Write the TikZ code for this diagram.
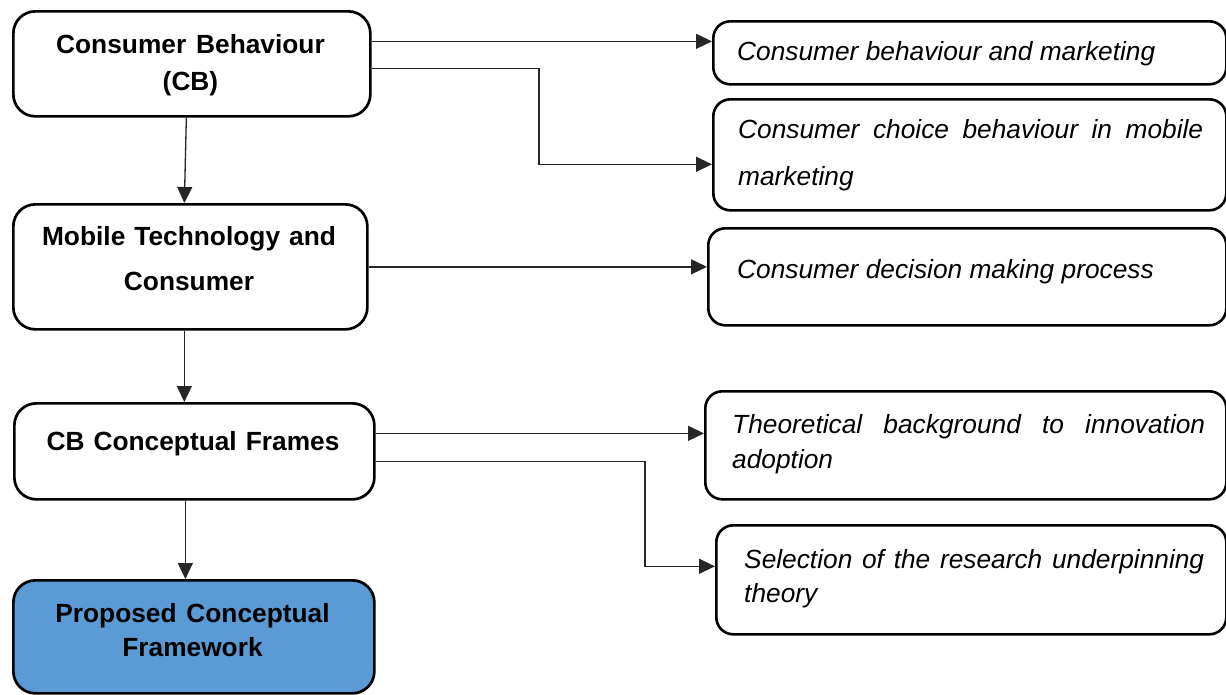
\documentclass[tikz,border=0pt]{standalone}
\usepackage{fontspec}
\setmainfont{Liberation Sans}
\usetikzlibrary{arrows.meta}
\definecolor{boxblue}{RGB}{91,155,213}
\newcommand\jline[2]{\makebox[#1][s]{\spaceskip=0pt\xspaceskip=0pt #2}}
\begin{document}
\begin{tikzpicture}[x=1pt,y=-1pt,
  lbox/.style={draw=black, line width=2.7pt, rounded corners=22pt, inner sep=0pt, anchor=north west},
  rbox/.style={draw=black, line width=2.6pt, rounded corners=17pt, inner sep=0pt, anchor=north west},
  conn/.style={draw=black!85, line width=1.3pt, -{Triangle[length=16pt,width=15pt]}},
  ltext/.style={font=\bfseries\fontsize{26.3}{#1}\selectfont, align=center, text width=345pt, inner sep=0pt, anchor=base,
    execute at begin node={\spaceskip=0pt\xspaceskip=0pt}},
  ltext/.default=37,
  rtext/.style={font=\itshape\fontsize{26.3}{#1}\selectfont, align=left, inner sep=0pt, anchor=base west,
    execute at begin node={\spaceskip=0pt\xspaceskip=0pt}},
  rtext/.default=35]
\fill[white] (0,0) rectangle (1226,694);
\useasboundingbox (0,0) rectangle (1226,694);

% left boxes
\node[lbox, minimum width=357pt, minimum height=105pt] (B1) at (12,10) {};
\node[lbox, minimum width=354pt, minimum height=125pt] (B2) at (12,203) {};
\node[lbox, minimum width=360pt, minimum height=96pt] (B3) at (13,402) {};
\node[lbox, fill=boxblue, minimum width=361pt, minimum height=113pt] (B4) at (12,579) {};

% right boxes
\node[rbox, minimum width=513pt, minimum height=63pt] (R1) at (712,20) {};
\node[rbox, minimum width=513pt, minimum height=111pt] (R2) at (712,98) {};
\node[rbox, minimum width=518pt, minimum height=97pt] (R3) at (707,227) {};
\node[rbox, minimum width=521pt, minimum height=108pt] (R4) at (704,390) {};
\node[rbox, minimum width=510pt, minimum height=109pt] (R5) at (715,524) {};

% left texts
\node[ltext=37] (T1) at (190.5,53) {Consumer Behaviour\\(CB)};
\node[ltext=45] (T2) at (189,245) {Mobile Technology and\\Consumer};
\node[ltext] (T3) at (193,450) {CB Conceptual Frames};
\node[ltext=34] (T4) at (192.5,622) {Proposed Conceptual\\Framework};

% right texts
\node[rtext] (S1) at (737,60) {Consumer behaviour and marketing};
\node[rtext=47, text width=470pt] (S2) at (738,138) {\jline{465pt}{Consumer choice behaviour in mobile}\\marketing};
\node[rtext] (S3) at (737,278) {Consumer decision making process};
\node[rtext=35, text width=478pt] (S4) at (732,433) {\jline{473pt}{Theoretical background to innovation}\\adoption};
\node[rtext=34, text width=465pt] (S5) at (744,568) {\jline{460pt}{Selection of the research underpinning}\\theory};

% connectors
\coordinate (a1) at ([yshift=22.5pt]B1.east);
\draw[conn] (a1) -- (a1 -| R1.west);

\coordinate (a2) at ([yshift=-4.5pt]B1.east);
\coordinate (t2) at ([yshift=-9.5pt]R2.west);
\coordinate (k2) at (539,0);
\draw[conn] (a2) -- (a2 -| k2) -- (k2 |- t2) -- (t2);

\draw[conn] (B2.east) -- (B2.east -| R3.west);

\coordinate (a4) at ([yshift=18pt]B3.east);
\draw[conn] (a4) -- (a4 -| R4.west);

\coordinate (a5) at ([yshift=-10pt]B3.east);
\coordinate (t5) at ([yshift=13.5pt]R5.west);
\coordinate (k5) at (645,0);
\draw[conn] (a5) -- (a5 -| k5) -- (k5 |- t5) -- (t5);

\draw[conn] ([xshift=-5.5pt]B1.south) -- ([xshift=-6pt]B2.north);
\draw[conn] ([xshift=-6pt]B2.south) -- ([xshift=-10pt]B3.north);
\draw[conn] ([xshift=-9pt]B3.south) -- ([xshift=-8.5pt]B4.north);
\end{tikzpicture}
\end{document}
